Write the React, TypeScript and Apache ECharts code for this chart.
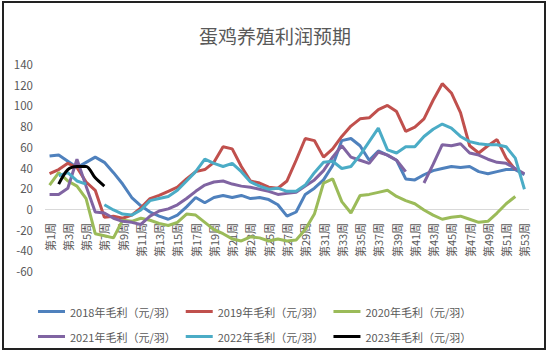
import React, { useEffect, useRef } from "react";
import * as echarts from "echarts";

const weeks = [
  "第1周","第2周","第3周","第4周","第5周","第6周","第7周","第8周","第9周","第10周",
  "第11周","第12周","第13周","第14周","第15周","第16周","第17周","第18周","第19周","第20周",
  "第21周","第22周","第23周","第24周","第25周","第26周","第27周","第28周","第29周","第30周",
  "第31周","第32周","第33周","第34周","第35周","第36周","第37周","第38周","第39周","第40周",
  "第41周","第42周","第43周","第44周","第45周","第46周","第47周","第48周","第49周","第50周",
  "第51周","第52周","第53周",
];

const names = [
  "2018年毛利（元/羽）",
  "2019年毛利（元/羽）",
  "2020年毛利（元/羽）",
  "2021年毛利（元/羽）",
  "2022年毛利（元/羽）",
  "2023年毛利（元/羽）",
];

const colors = ["#4F81BD", "#C0504D", "#9BBB59", "#8064A2", "#4BACC6", "#000000"];

const y2018 = [
  51, 52, 46, 40, 45, 50, 45, 35, 24, 11,
  3, -3, -7, -10, -6, 2, 11, 6, 11, 13,
  11, 13, 10, 11, 9, 4, -7, -3, 14, 20,
  28, 42, 66, 68, 61, 47, 56, 52, 47, 29,
  28, 33, 37, 39, 41, 40, 41, 36, 34, 36,
  38, 38, 33,
];

const y2019 = [
  34, 38, 44, 40, 26, 18, -8, -7, -9, -6,
  1, 10, 13, 17, 21, 29, 36, 38, 45, 60,
  58, 41, 27, 25, 21, 20, 27, 47, 68, 66,
  50, 58, 70, 80, 87, 88, 96, 100, 94, 75,
  79, 87, 105, 121, 112, 93, 61, 54, 61, 67,
  49, 38, null,
];

const y2020 = [
  23, 35, 27, 22, 10, -24, -26, -28, -11, -12,
  -9, -11, -14, -16, -13, -5, -6, -13, -20, -24,
  -29, -31, -27, -28, -31, -29, -31, -30, -20, -5,
  25, 29, 7, -4, 13, 14, 16, 18, 12, 8,
  5, -1, -6, -10, -8, -7, -10, -13, -12, -4,
  5, 12, null,
];

const y2021 = [
  14, 14, 20, 48, 22, -3, -4, -9, -12, -13,
  -15, -7, -2, 0, 4, 10, 17, 23, 26, 27,
  24, 22, 21, 19, 17, 14, 15, 16, 22, 28,
  37, 50, 61, 50, 47, 44, 55, 52, 47, 36,
  null, 25, 43, 62, 61, 63, 54, 52, 48, 45,
  44, 39, 34,
];

const y2022 = [
  null, 32, 35, 27, 24, null, 4, -1, -5, -6,
  -1, 8, 10, 12, 18, 27, 36, 48, 44, 41,
  44, 36, 26, 22, 19, 20, 17, 17, 23, 35,
  45, 46, 39, 41, 52, 65, 78, 57, 54, 60,
  60, 70, 77, 82, 78, 70, 65, 63, 62, 62,
  60, 49, 19,
];

const y2023 = [null, 24, 38, 41, 41, 30, 22];

const allSeries = [y2018, y2019, y2020, y2021, y2022, y2023];

const yMin = -60;
const yMax = 140;
const yStep = 20;

export default function App() {
  const ref = useRef<HTMLDivElement>(null);
  useEffect(() => {
    document.body.style.margin = "0";
    const chart = echarts.init(ref.current!, null, { renderer: "svg" });
    const font = "'Noto Sans CJK SC', 'Noto Sans', sans-serif";
    const plotTop = 64;
    const plotBottom = 82;
    const plotH = 353 - plotTop - plotBottom;
    const zeroOffset = (plotH * (0 - yMin)) / (yMax - yMin);
    const gridColors: string[] = [];
    for (let v = yMin; v <= yMax; v += yStep) gridColors.push(v === 0 ? "#d9d9d9" : "rgba(0,0,0,0)");
    const legendBase = {
      left: 38,
      padding: 0,
      itemWidth: 27,
      itemHeight: 3,
      itemGap: 10,
      icon: "rect",
      textStyle: { fontSize: 11, color: "#595959", fontFamily: font },
    };
    chart.setOption({
      animation: false,
      backgroundColor: "#ffffff",
      textStyle: { fontFamily: font },
      title: {
        text: "蛋鸡养殖利润预期",
        left: "center",
        top: 21,
        textStyle: { fontSize: 19, fontWeight: "normal", color: "#595959", fontFamily: font },
      },
      legend: [
        { ...legendBase, data: names.slice(0, 3), top: 306 },
        { ...legendBase, data: names.slice(3, 6), top: 331 },
      ],
      grid: { left: 45, right: 21, top: plotTop, bottom: plotBottom, containLabel: false },
      xAxis: {
        type: "category",
        data: weeks,
        boundaryGap: true,
        axisLine: { show: false, onZero: false },
        axisTick: { show: false },
        axisLabel: {
          interval: 1,
          rotate: 90,
          fontSize: 11,
          color: "#595959",
          margin: 14 - zeroOffset,
          fontFamily: font,
        },
      },
      yAxis: {
        type: "value",
        min: yMin,
        max: yMax,
        interval: yStep,
        splitLine: { show: true, lineStyle: { color: gridColors, width: 1 } },
        axisLine: { show: false },
        axisTick: { show: false },
        axisLabel: { fontSize: 11.5, color: "#595959", margin: 12, fontFamily: font },
      },
      series: allSeries.map((d, i) => ({
        name: names[i],
        type: "line",
        data: d,
        symbol: "none",
        smooth: i === 5 ? 0.3 : false,
        connectNulls: false,
        lineStyle: { width: 3, color: colors[i] },
        itemStyle: { color: colors[i] },
      })),
      graphic: [
        {
          type: "rect",
          shape: { x: 3, y: 2, width: 542, height: 347 },
          style: { fill: "none", stroke: "#222222", lineWidth: 2 },
          silent: true,
        },
      ],
    });
    return () => chart.dispose();
  }, []);
  return <div ref={ref} style={{ width: 550, height: 353 }} />;
}
